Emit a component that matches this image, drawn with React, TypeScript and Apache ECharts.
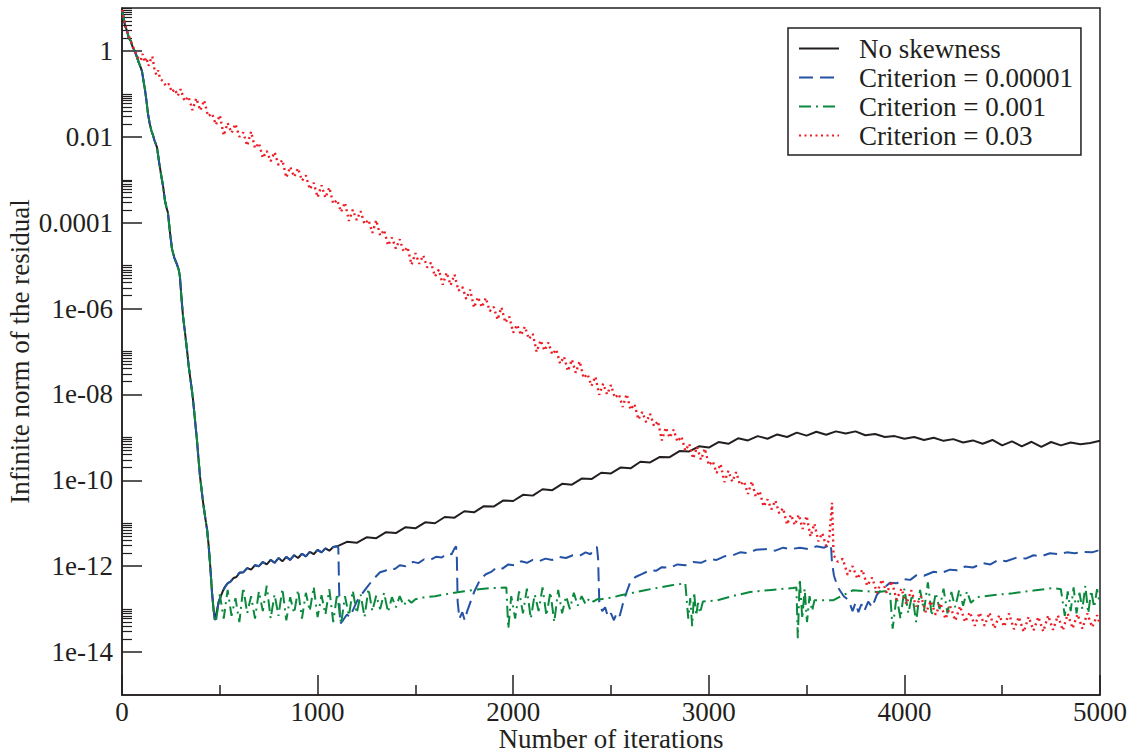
import React, { useEffect, useRef } from "react";
import * as echarts from "echarts";

type Pt = [number, number];

const FONT = "Liberation Serif";

const seriesNames = ["No skewness", "Criterion = 0.00001", "Criterion = 0.001", "Criterion = 0.03"];
const seriesColors = ["#231f20", "#2452a4", "#0b8a3e", "#ee1d25"];

const xTicks = [0, 1000, 2000, 3000, 4000, 5000];
const yMajorValues = [1, 1e-2, 1e-4, 1e-6, 1e-8, 1e-10, 1e-12, 1e-14];
const yMajorLabels = ["1", "0.01", "0.0001", "1e-06", "1e-08", "1e-10", "1e-12", "1e-14"];
const yMinorFactors = [2, 3, 4, 5, 6, 7, 8, 9, 10];

// shared initial drop (black, blue, green)
const dropShared: Pt[] = [
  [0, 9], [8, 6], [16, 3.8], [25, 3.0], [35, 2.0], [45, 1.7], [55, 1.2], [65, 1.0], [75, 0.75],
  [85, 0.55], [95, 0.42], [102, 0.34], [110, 0.2], [118, 0.12], [125, 0.07], [133, 0.034],
  [142, 0.02], [150, 0.014], [158, 0.011], [167, 0.008], [179, 0.0057], [190, 0.0025],
  [200, 0.0013], [210, 7e-4], [220, 3.2e-4], [228, 2.2e-4], [235, 1.7e-4], [245, 6e-5],
  [256, 2.4e-5], [268, 1.5e-5], [281, 1.07e-5], [290, 8e-6], [296, 5.6e-6], [304, 1.8e-6],
  [312, 6.6e-7], [322, 2.8e-7], [332, 1.12e-7], [340, 5e-8], [348, 2.6e-8], [356, 1.4e-8],
  [363, 7.6e-9], [373, 2.6e-9], [383, 8.9e-10], [391, 3.2e-10], [399, 1.2e-10], [407, 6e-11],
  [414, 3.2e-11], [425, 1.4e-11], [435, 7.1e-12], [443, 3.0e-12], [450, 1.17e-12], [455, 5.5e-13],
  [460, 2.5e-13], [468, 1.0e-13], [475, 5.6e-14],
];

// black / blue common rise up to 1100
const riseShared: Pt[] = [
  [485, 9e-14], [495, 1.5e-13], [505, 2.0e-13], [515, 2.6e-13], [525, 3.2e-13], [540, 4.0e-13],
  [555, 4.4e-13], [570, 5.3e-13], [585, 5.6e-13], [600, 7.0e-13], [620, 7.2e-13], [640, 9.0e-13],
  [660, 8.3e-13], [680, 1.05e-12], [700, 1.0e-12], [720, 1.25e-12], [740, 1.1e-12], [760, 1.4e-12],
  [780, 1.2e-12], [800, 1.55e-12], [820, 1.3e-12], [840, 1.65e-12], [860, 1.4e-12], [880, 1.8e-12],
  [900, 1.55e-12], [920, 1.95e-12], [940, 1.7e-12], [960, 2.15e-12], [980, 1.9e-12], [1000, 2.4e-12],
  [1020, 2.1e-12], [1040, 2.6e-12], [1060, 2.3e-12], [1080, 2.8e-12], [1100, 2.9e-12],
];

const blackLate: Pt[] = [
  [1150, 3.7e-12], [1200, 3.5e-12], [1250, 4.7e-12], [1300, 4.5e-12], [1350, 6.2e-12], [1400, 5.9e-12],
  [1450, 8.1e-12], [1500, 7.6e-12], [1550, 1.05e-11], [1600, 1.0e-11], [1650, 1.4e-11], [1700, 1.35e-11],
  [1750, 1.9e-11], [1800, 1.8e-11], [1850, 2.5e-11], [1900, 2.45e-11], [1950, 3.4e-11], [2000, 3.3e-11],
  [2050, 4.6e-11], [2100, 4.4e-11], [2150, 6.2e-11], [2200, 5.9e-11], [2250, 8.3e-11], [2300, 7.9e-11],
  [2350, 1.1e-10], [2400, 1.07e-10], [2450, 1.5e-10], [2500, 1.45e-10], [2550, 2.0e-10], [2600, 1.9e-10],
  [2650, 2.7e-10], [2700, 2.6e-10], [2750, 3.5e-10], [2800, 3.45e-10], [2850, 4.8e-10], [2900, 4.7e-10],
  [2950, 6.2e-10], [3000, 5.8e-10], [3050, 7.8e-10], [3100, 7.1e-10], [3150, 9.5e-10], [3200, 8.5e-10],
  [3250, 1.07e-9], [3300, 9.3e-10], [3350, 1.17e-9], [3400, 1.02e-9], [3450, 1.29e-9], [3500, 1.1e-9],
  [3550, 1.35e-9], [3600, 1.15e-9], [3650, 1.38e-9], [3700, 1.23e-9], [3750, 1.38e-9], [3800, 1.12e-9],
  [3850, 1.2e-9], [3900, 1.02e-9], [3950, 1.07e-9], [4000, 9.3e-10], [4050, 1.02e-9], [4100, 8.7e-10],
  [4150, 9.8e-10], [4200, 8.3e-10], [4250, 9.1e-10], [4300, 7.6e-10], [4350, 8.5e-10], [4400, 7.1e-10],
  [4450, 8.7e-10], [4500, 6.5e-10], [4550, 8.1e-10], [4600, 6.2e-10], [4650, 7.9e-10], [4700, 6.0e-10],
  [4750, 7.8e-10], [4800, 6.5e-10], [4850, 7.6e-10], [4900, 6.9e-10], [4950, 7.4e-10], [5000, 8.3e-10],
];

const blueLate: Pt[] = [
  [1106, 2.6e-12], [1110, 3e-13], [1115, 4.5e-14], [1130, 5.5e-14], [1150, 7.5e-14], [1165, 6.5e-14],
  [1181, 9.5e-14], [1200, 1.5e-13], [1225, 2.2e-13], [1252, 3.2e-13], [1285, 5.0e-13], [1319, 7.2e-13],
  [1345, 7.8e-13], [1370, 9.0e-13], [1395, 8.6e-13], [1420, 1.05e-12], [1450, 1.0e-12], [1488, 1.26e-12],
  [1515, 1.18e-12], [1545, 1.45e-12], [1575, 1.4e-12], [1605, 1.65e-12], [1635, 1.6e-12], [1662, 2.0e-12],
  [1685, 1.9e-12], [1700, 2.6e-12], [1708, 2.9e-12], [1712, 1.5e-12], [1716, 1.5e-13], [1725, 6e-14],
  [1740, 8.5e-14], [1752, 5.5e-14], [1765, 9e-14], [1780, 1.4e-13], [1800, 2.5e-13], [1830, 4.8e-13],
  [1860, 6.5e-13], [1890, 7.5e-13], [1917, 9.5e-13], [1945, 8.8e-13], [1975, 1.1e-12], [2005, 1.05e-12],
  [2040, 1.3e-12], [2070, 1.2e-12], [2100, 1.4e-12], [2130, 1.3e-12], [2165, 1.5e-12], [2200, 1.4e-12],
  [2235, 1.65e-12], [2270, 1.55e-12], [2305, 1.8e-12], [2340, 1.75e-12], [2370, 2.1e-12], [2395, 1.9e-12],
  [2415, 2.6e-12], [2428, 2.8e-12], [2434, 1.5e-12], [2440, 1.5e-13], [2455, 9e-14], [2470, 1.1e-13],
  [2485, 6.5e-14], [2500, 8e-14], [2515, 5.5e-14], [2530, 8.5e-14], [2545, 7e-14], [2565, 1.6e-13],
  [2597, 4.1e-13], [2625, 5.6e-13], [2660, 6.6e-13], [2700, 8.1e-13], [2730, 7.8e-13], [2760, 9.5e-13],
  [2800, 9.2e-13], [2840, 1.1e-12], [2880, 1.05e-12], [2920, 1.25e-12], [2960, 1.2e-12], [3000, 1.45e-12],
  [3040, 1.4e-12], [3080, 1.7e-12], [3124, 1.8e-12], [3160, 2.1e-12], [3200, 2.0e-12], [3240, 2.4e-12],
  [3298, 2.5e-12], [3340, 2.3e-12], [3380, 2.7e-12], [3420, 2.5e-12], [3466, 2.7e-12], [3510, 2.5e-12],
  [3550, 2.9e-12], [3590, 2.7e-12], [3615, 3.1e-12], [3624, 3.3e-12], [3630, 1.2e-12], [3640, 6e-13],
  [3660, 3.2e-13], [3690, 2.0e-13], [3715, 1.6e-13], [3735, 9e-14], [3750, 1.4e-13], [3765, 8.5e-14],
  [3780, 1.3e-13], [3795, 9e-14], [3815, 1.5e-13], [3835, 1.1e-13], [3860, 2.2e-13], [3890, 3.0e-13],
  [3926, 4.1e-13], [3960, 4.0e-13], [4000, 5.0e-13], [4030, 4.8e-13], [4064, 6.3e-13], [4100, 6.0e-13],
  [4150, 7.4e-13], [4190, 7.0e-13], [4233, 8.3e-13], [4270, 8.0e-13], [4310, 9.8e-13], [4350, 9.3e-13],
  [4402, 1.17e-12], [4440, 1.1e-12], [4480, 1.4e-12], [4520, 1.3e-12], [4576, 1.6e-12], [4620, 1.5e-12],
  [4660, 1.8e-12], [4700, 1.7e-12], [4744, 2.0e-12], [4790, 1.9e-12], [4830, 2.1e-12], [4870, 2.0e-12],
  [4913, 2.15e-12], [4960, 2.1e-12], [5000, 2.4e-12],
];

const greenLate: Pt[] = [
  [480, 5e-14], [500, 2.2e-13], [520, 6e-14], [540, 2.8e-13], [560, 7e-14], [580, 1.8e-13], [600, 5e-14],
  [620, 3.2e-13], [640, 8e-14], [660, 2.0e-13], [680, 6e-14], [700, 2.6e-13], [720, 9e-14], [740, 3.5e-13],
  [760, 6e-14], [780, 2.2e-13], [800, 7e-14], [820, 3.0e-13], [840, 5.5e-14], [860, 1.9e-13], [880, 8e-14],
  [900, 2.8e-13], [920, 6e-14], [940, 2.4e-13], [960, 9e-14], [980, 3.3e-13], [1000, 6.5e-14], [1020, 2.1e-13],
  [1040, 7.5e-14], [1060, 2.9e-13], [1080, 5e-14], [1100, 2.3e-13], [1120, 4.5e-14], [1140, 2.0e-13],
  [1160, 7e-14], [1180, 2.7e-13], [1200, 8e-14], [1220, 2.2e-13], [1240, 6.5e-14], [1260, 3.0e-13],
  [1280, 9e-14], [1300, 2.1e-13], [1320, 1.0e-13], [1340, 2.4e-13], [1360, 8.5e-14], [1380, 1.9e-13],
  [1400, 1.1e-13], [1420, 2.0e-13], [1440, 1.2e-13], [1460, 1.7e-13], [1480, 1.4e-13], [1500, 1.7e-13],
  [1550, 1.9e-13], [1600, 2.0e-13], [1650, 2.2e-13], [1700, 2.4e-13], [1750, 2.6e-13], [1800, 2.8e-13],
  [1850, 3.0e-13], [1900, 3.1e-13], [1965, 3.2e-13],
  [1975, 3.5e-14], [1990, 2.0e-13], [2010, 6e-14], [2030, 2.6e-13], [2050, 8e-14], [2070, 3.0e-13],
  [2090, 6e-14], [2110, 2.2e-13], [2130, 9e-14], [2150, 3.2e-13], [2170, 7e-14], [2190, 2.5e-13],
  [2210, 5e-14], [2230, 2.8e-13], [2250, 8e-14], [2270, 2.0e-13], [2290, 1.0e-13], [2310, 2.4e-13],
  [2330, 1.2e-13], [2350, 2.0e-13], [2370, 1.3e-13], [2390, 1.8e-13], [2410, 1.5e-13], [2430, 1.7e-13],
  [2450, 1.7e-13], [2500, 1.85e-13], [2550, 2.1e-13], [2612, 2.4e-13], [2680, 2.8e-13], [2750, 3.2e-13],
  [2810, 3.6e-13], [2880, 4.0e-13],
  [2895, 6e-14], [2905, 1.8e-13], [2915, 4e-14], [2925, 2.5e-13], [2935, 7e-14], [2945, 1.4e-13],
  [2955, 8e-14], [2970, 1.5e-13],
  [3042, 1.6e-13], [3120, 2.0e-13], [3211, 2.5e-13], [3320, 2.8e-13], [3430, 3.1e-13],
  [3448, 3.2e-13], [3455, 2.1e-14], [3465, 5e-13], [3478, 6e-14], [3490, 3.0e-13], [3502, 5e-14],
  [3515, 2.0e-13], [3528, 9e-14], [3540, 1.6e-13],
  [3635, 1.6e-13], [3737, 2.75e-13], [3860, 2.5e-13], [3900, 2.6e-13],
  [3926, 2.6e-13], [3940, 3.5e-14], [3960, 2.0e-13], [3980, 6e-14], [4000, 3.0e-13], [4020, 8e-14],
  [4040, 2.2e-13], [4060, 5e-14], [4080, 2.8e-13], [4100, 9e-14], [4120, 4.2e-13], [4140, 7e-14],
  [4160, 2.4e-13], [4180, 1.0e-13], [4200, 3.0e-13], [4220, 8e-14], [4240, 2.5e-13], [4260, 1.1e-13],
  [4280, 2.8e-13], [4300, 1.2e-13], [4320, 2.6e-13], [4340, 1.4e-13],
  [4371, 1.9e-13], [4450, 2.1e-13], [4555, 2.35e-13], [4660, 2.7e-13], [4760, 3.1e-13], [4800, 2.9e-13],
  [4820, 7e-14], [4835, 2.6e-13], [4850, 9e-14], [4865, 3.2e-13], [4880, 8e-14], [4895, 2.4e-13],
  [4910, 1.0e-13], [4925, 3.5e-13], [4940, 8e-14], [4955, 2.7e-13], [4970, 1.1e-13], [4985, 2.9e-13],
  [5000, 1.2e-13],
];

const redData: Pt[] = [
  [0, 9], [8, 6], [16, 4], [25, 3.0], [35, 2.2], [45, 1.7], [55, 1.3], [65, 1.0], [75, 0.8], [85, 0.65],
  [95, 0.6], [105, 0.85], [115, 0.55], [125, 0.7], [135, 0.45], [145, 0.6], [155, 0.75], [165, 0.4],
  [175, 0.28], [185, 0.35], [195, 0.22], [210, 0.2], [225, 0.15], [240, 0.17], [255, 0.11], [270, 0.13],
  [285, 0.09],
  [300, 0.129], [320, 0.068], [340, 0.087], [360, 0.042], [380, 0.079], [400, 0.041], [420, 0.071],
  [440, 0.030], [460, 0.035], [480, 0.019], [500, 0.032], [520, 0.0107], [540, 0.021], [560, 0.0123],
  [580, 0.020], [600, 0.010], [620, 0.0126], [640, 0.0062], [660, 0.0132], [680, 0.0054], [700, 0.0072],
  [720, 0.0032], [740, 0.0047], [760, 0.0027], [780, 0.0044], [800, 0.0022], [820, 0.0029], [840, 0.00112],
  [860, 0.0020], [880, 0.00117], [900, 0.00186], [920, 9.5e-4], [940, 0.00126], [960, 6.0e-4], [980, 8.5e-4],
  [1000, 3.9e-4], [1020, 7.4e-4], [1040, 3.8e-4], [1060, 6.6e-4], [1080, 2.75e-4], [1100, 3.4e-4],
  [1120, 1.78e-4], [1140, 2.95e-4], [1160, 1.1e-4], [1180, 2.0e-4], [1200, 1.15e-4], [1220, 1.86e-4],
  [1240, 9.3e-5], [1260, 1.17e-4], [1280, 5.8e-5], [1300, 1.15e-4], [1320, 5.0e-5], [1340, 6.8e-5],
  [1360, 2.95e-5], [1380, 4.5e-5], [1400, 2.5e-5], [1420, 4.1e-5], [1440, 2.1e-5], [1460, 2.7e-5],
  [1480, 1.05e-5], [1500, 1.95e-5], [1520, 1.1e-5], [1540, 1.74e-5], [1560, 9.1e-6], [1580, 1.17e-5],
  [1600, 5.6e-6], [1620, 8.1e-6], [1640, 3.6e-6], [1660, 6.9e-6], [1680, 3.5e-6], [1700, 6.2e-6],
  [1720, 2.6e-6], [1740, 3.2e-6], [1760, 1.66e-6], [1780, 2.75e-6], [1800, 1.05e-6], [1820, 1.86e-6],
  [1840, 1.07e-6], [1860, 1.78e-6], [1880, 8.7e-7], [1900, 1.1e-6], [1920, 5.5e-7], [1940, 1.07e-6],
  [1960, 4.7e-7], [1980, 6.5e-7], [2000, 2.75e-7], [2020, 4.2e-7], [2040, 2.4e-7], [2060, 3.8e-7],
  [2080, 1.95e-7], [2100, 2.6e-7], [2120, 9.8e-8], [2140, 1.82e-7], [2160, 1.05e-7], [2180, 1.62e-7],
  [2200, 8.5e-8], [2220, 1.12e-7], [2240, 5.2e-8], [2260, 7.6e-8], [2280, 3.5e-8], [2300, 6.5e-8],
  [2320, 3.2e-8], [2340, 5.9e-8], [2360, 2.4e-8], [2380, 3.0e-8], [2400, 1.58e-8], [2420, 2.6e-8],
  [2440, 9.8e-9], [2460, 1.78e-8], [2480, 1.0e-8], [2500, 1.66e-8], [2520, 8.3e-9], [2540, 1.02e-8],
  [2560, 5.1e-9], [2580, 1.02e-8], [2600, 4.4e-9], [2620, 6.0e-9], [2640, 2.6e-9], [2660, 3.9e-9],
  [2680, 2.24e-9], [2700, 3.55e-9], [2720, 1.82e-9], [2740, 2.4e-9], [2760, 8.5e-10], [2780, 1.7e-9],
  [2800, 9.8e-10], [2820, 1.51e-9], [2840, 7.9e-10], [2860, 1.05e-9], [2880, 4.9e-10], [2900, 7.1e-10],
  [2920, 3.2e-10], [2940, 6.0e-10], [2960, 3.0e-10], [2980, 5.5e-10], [3000, 2.24e-10], [3020, 2.8e-10],
  [3040, 1.48e-10], [3060, 2.4e-10], [3080, 9.1e-11], [3100, 1.66e-10], [3120, 9.3e-11], [3140, 1.55e-10],
  [3160, 7.8e-11], [3180, 9.5e-11], [3200, 4.8e-11], [3220, 9.5e-11], [3240, 4.1e-11], [3260, 5.6e-11],
  [3280, 2.45e-11], [3300, 3.6e-11], [3320, 2.1e-11], [3340, 3.4e-11], [3360, 1.7e-11], [3380, 2.24e-11],
  [3400, 9.3e-12], [3420, 1.58e-11], [3440, 9.1e-12], [3460, 1.58e-11], [3480, 7.4e-12], [3500, 1.48e-11],
  [3520, 4.9e-12], [3540, 9.8e-12], [3560, 3.8e-12], [3580, 5.9e-12], [3600, 2.95e-12], [3615, 4.1e-12],
  [3630, 3.0e-11], [3638, 1.8e-12], [3660, 1.26e-12],
  [3685, 1.48e-12], [3710, 6.3e-13], [3735, 1.0e-12], [3760, 5.1e-13], [3785, 8.3e-13], [3810, 3.5e-13],
  [3835, 5.4e-13], [3860, 2.4e-13], [3885, 4.9e-13], [3910, 2.35e-13], [3935, 4.5e-13], [3960, 1.66e-13],
  [3985, 3.0e-13], [4010, 1.3e-13], [4035, 2.75e-13], [4060, 1.15e-13], [4085, 2.0e-13], [4110, 8.3e-14],
  [4135, 1.55e-13], [4160, 7.4e-14], [4185, 1.38e-13], [4210, 5.9e-14], [4235, 1.15e-13], [4260, 5.4e-14],
  [4285, 1.17e-13], [4310, 5.0e-14], [4335, 8.5e-14], [4360, 4.1e-14], [4385, 8.3e-14], [4410, 4.1e-14],
  [4435, 8.3e-14], [4460, 3.55e-14], [4485, 7.2e-14], [4510, 3.9e-14], [4535, 7.9e-14], [4560, 3.4e-14],
  [4585, 6.6e-14], [4610, 2.95e-14], [4635, 6.6e-14], [4660, 3.2e-14], [4685, 6.6e-14], [4710, 3.0e-14],
  [4735, 7.1e-14], [4760, 3.3e-14], [4785, 7.1e-14], [4810, 3.2e-14], [4835, 7.8e-14], [4860, 3.55e-14],
  [4885, 7.6e-14], [4910, 3.5e-14], [4935, 7.9e-14], [4960, 3.8e-14], [4985, 7.2e-14], [5000, 4.4e-14],
];

const blackData = [...dropShared, ...riseShared, ...blackLate];
const blueData = [...dropShared, ...riseShared, ...blueLate];
const greenData = [...dropShared, ...greenLate];

const lineTypes: any[] = ["solid", [14, 7], [12, 5, 2, 5], [2, 3.5]];
const lineWidths = [2, 2, 2, 2.4];
const allData = [blackData, blueData, greenData, redData];

const yMinorValues = yMajorValues.flatMap((m) => yMinorFactors.map((k) => k * m));

function yLabel(v: number): string {
  const i = yMajorValues.findIndex((m) => Math.abs(Math.log10(m) - Math.log10(v)) < 0.01);
  return i >= 0 ? yMajorLabels[i] : "";
}

export default function App() {
  const ref = useRef<HTMLDivElement>(null);
  useEffect(() => {
    if (!ref.current) return;
    const chart = echarts.init(ref.current, undefined, { renderer: "svg" });
    const axisColor = "#231f20";
    const textBase = { fontFamily: FONT, fontSize: 27, color: "#231f20" };
    chart.setOption({
      animation: false,
      backgroundColor: "#ffffff",
      textStyle: { fontFamily: FONT },
      grid: {
        left: 122, top: 8, width: 978, height: 687,
        containLabel: false,
        outerBoundsMode: "none",
        show: true, borderColor: axisColor, borderWidth: 1.5, backgroundColor: "transparent",
      },
      legend: {
        orient: "vertical",
        left: 788,
        top: 28,
        itemWidth: 40,
        itemHeight: 14,
        itemGap: 2,
        padding: [7, 8, 6, 10],
        borderColor: axisColor,
        borderWidth: 1.5,
        backgroundColor: "#ffffff",
        data: seriesNames,
        itemStyle: { opacity: 0 },
        textStyle: { ...textBase, lineHeight: 27, padding: [0, 0, 0, 15] },
      },
      xAxis: {
        type: "value",
        min: 0,
        max: 5000,
        interval: 1000,
        name: "Number of iterations",
        nameLocation: "middle",
        nameGap: 33,
        nameMoveOverlap: false,
        nameTextStyle: { ...textBase, lineHeight: 22 },
        axisLine: { lineStyle: { color: axisColor, width: 1.5 } },
        axisTick: { inside: true, length: 20, lineStyle: { color: axisColor, width: 1.5 } },
        minorTick: { show: true, splitNumber: 2, length: 10, lineStyle: { color: axisColor, width: 1.5 } },
        splitLine: { show: false },
        axisLabel: { ...textBase, lineHeight: 22, margin: 6, customValues: xTicks, formatter: (v: number) => String(v) },
      },
      yAxis: [
        {
          type: "log",
          logBase: 10,
          min: 1e-15,
          max: 10,
          name: "Infinite norm of the residual",
          nameLocation: "middle",
          nameGap: 89,
          nameMoveOverlap: false,
          nameTextStyle: { ...textBase },
          axisLine: { lineStyle: { color: axisColor, width: 1.5 } },
          axisTick: { inside: true, length: 20, lineStyle: { color: axisColor, width: 1.5 }, customValues: yMajorValues },
          splitLine: { show: false },
          minorTick: { show: false },
          axisLabel: { ...textBase, margin: 9, customValues: yMajorValues, formatter: (v: number) => yLabel(v) },
        },
        {
          type: "log",
          logBase: 10,
          min: 1e-15,
          max: 10,
          position: "left",
          axisLine: { show: false },
          axisTick: { inside: true, length: 10, lineStyle: { color: axisColor, width: 1.2 }, customValues: yMinorValues },
          axisLabel: { show: false },
          splitLine: { show: false },
        },
      ],
      series: seriesNames.map((name, i) => ({
        name,
        type: "line",
        data: allData[i],
        yAxisIndex: 0,
        symbol: "none",
        showSymbol: false,
        z: 2 + i,
        color: seriesColors[i],
        lineStyle: { color: seriesColors[i], width: lineWidths[i], type: lineTypes[i] },
      })),
    });
    return () => chart.dispose();
  }, []);
  return (
    <div
      ref={ref}
      style={{ position: "fixed", left: 0, top: 0, width: 1138, height: 755, background: "#fff" }}
    />
  );
}
